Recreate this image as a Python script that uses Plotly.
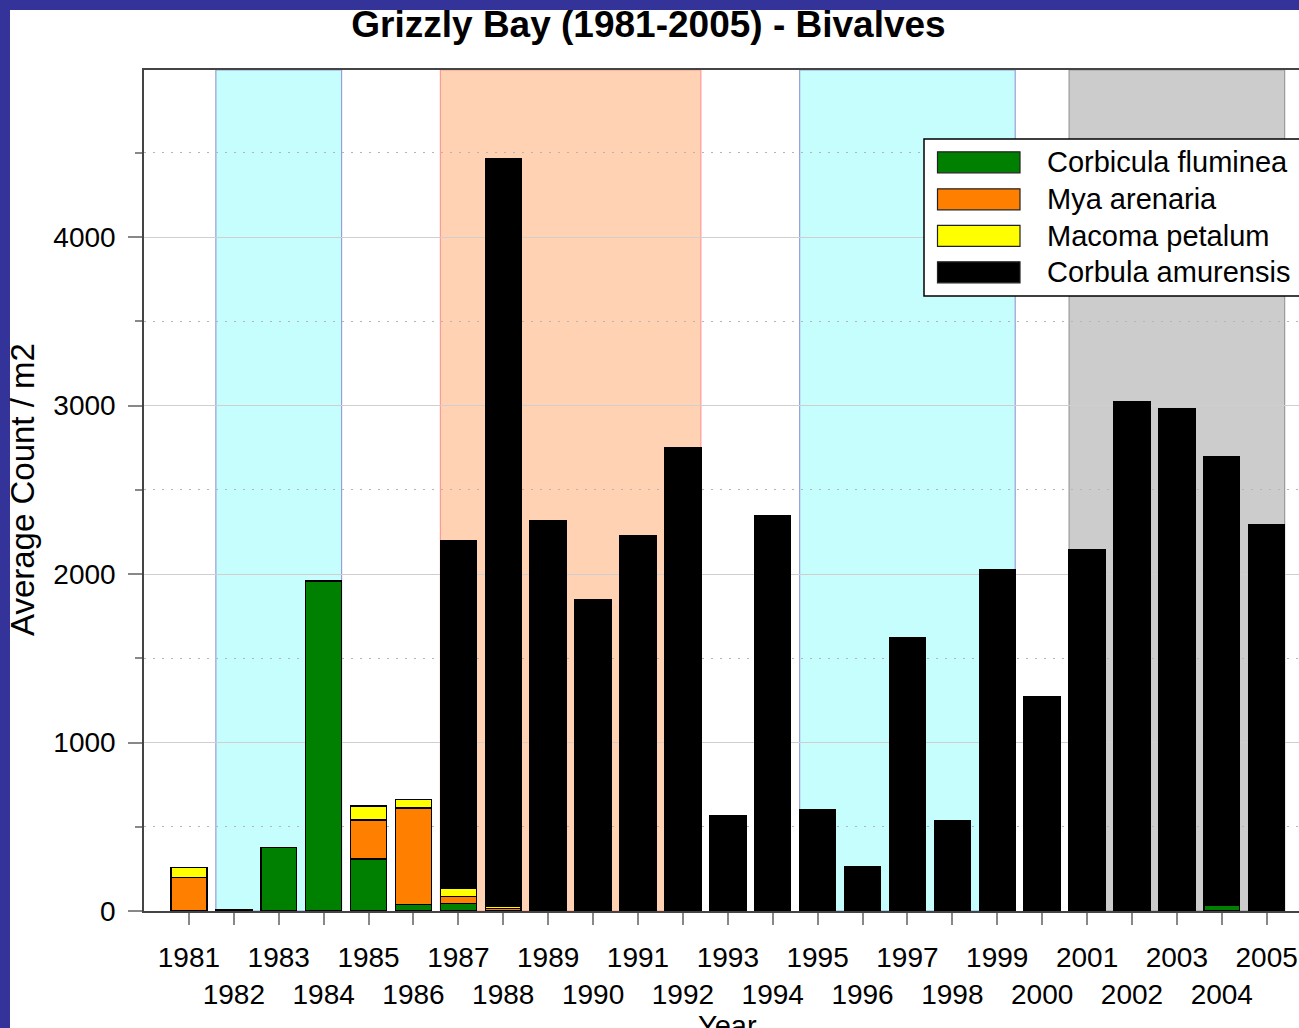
import plotly.graph_objects as go

# ---------------- data ----------------
years = list(range(1981, 2006))
species = ["Corbicula fluminea", "Mya arenaria", "Macoma petalum", "Corbula amurensis"]
colors = ["#008000", "#FF8000", "#FFFF00", "#000000"]

corbicula = [0, 8, 378, 1958, 310, 40, 46, 0, 0, 0, 0, 0, 0,
             0, 0, 0, 0, 0, 0, 0, 0, 0, 0, 36, 0]
mya = [200, 0, 0, 0, 230, 570, 39, 16, 0, 0, 0, 0, 0,
       0, 0, 0, 0, 0, 0, 0, 0, 0, 0, 0, 0]
macoma = [57, 0, 0, 0, 83, 53, 53, 15, 0, 5, 5, 0, 0,
          0, 0, 0, 0, 0, 0, 0, 0, 0, 0, 0, 0]
corbula = [0, 0, 0, 0, 0, 0, 2060, 4436, 2315, 1840, 2222, 2750, 564,
           2344, 598, 263, 1620, 538, 2024, 1270, 2144, 3023, 2983, 2660, 2291]
series = [corbicula, mya, macoma, corbula]

# shaded periods (first year, last year, fill, border)
period_start = [1982, 1987, 1995, 2001]
period_end = [1984, 1992, 1999, 2005]
period_fill = ["#C6FEFE", "#FFD2B4", "#C6FEFE", "#CCCCCC"]
period_line = ["#9A9ED6", "#FF9A9A", "#9A9ED6", "#9A9A9A"]

y_ticks = [0, 1000, 2000, 3000, 4000]
x_ticktext = [str(y) if y % 2 == 1 else "<br>" + str(y) for y in years]

# ---------------- layout geometry (pixels) ----------------
W, H = 1299, 1028
L, R, T, B = 144, 1299, 70, 911
FONT = "Liberation Sans, Arial, sans-serif"


def px(xp):
    return (xp - L) / (R - L)


def py(yp):
    return (B - yp) / (B - T)


fig = go.Figure()
for name, vals, col in zip(species, series, colors):
    fig.add_trace(go.Bar(
        x=years, y=[v if v else None for v in vals], name=name,
        marker=dict(color=col, line=dict(color="#000000", width=1.5)),
        width=0.8, showlegend=False,
    ))

shapes = []
for s, e, f, l in zip(period_start, period_end, period_fill, period_line):
    shapes.append(dict(type="rect", xref="x", yref="paper", x0=s - 0.4, x1=e + 0.4,
                       y0=0, y1=1, fillcolor=f, line=dict(color=l, width=1.2), layer="below"))

# blue slide border
shapes.append(dict(type="rect", xref="paper", yref="paper", x0=px(-5), x1=px(10),
                   y0=py(H + 5), y1=py(-5), fillcolor="#333399", line=dict(width=0), layer="above"))
shapes.append(dict(type="rect", xref="paper", yref="paper", x0=px(-5), x1=px(W + 5),
                   y0=py(10), y1=py(-5), fillcolor="#333399", line=dict(width=0), layer="above"))

# custom legend
shapes.append(dict(type="rect", xref="paper", yref="paper", x0=px(924), x1=px(1330),
                   y0=py(296), y1=py(139), fillcolor="white",
                   line=dict(color="#000000", width=1.5), layer="above"))
annotations = []
row_y = [162.3, 199.3, 235.8, 272.3]
for name, col, ry in zip(species, colors, row_y):
    shapes.append(dict(type="rect", xref="paper", yref="paper", x0=px(937.5), x1=px(1020),
                       y0=py(ry + 10.5), y1=py(ry - 10.5), fillcolor=col,
                       line=dict(color="#222222", width=1.2), layer="above"))
    annotations.append(dict(xref="paper", yref="paper", x=px(1045), y=py(ry),
                            text=name, showarrow=False, xanchor="left", yanchor="middle",
                            font=dict(family=FONT, size=29, color="#000000")))

annotations.append(dict(xref="paper", yref="paper", x=px(22), y=py(490),
                        text="Average Count / m2", textangle=-90, showarrow=False,
                        xanchor="center", yanchor="middle",
                        font=dict(family=FONT, size=33, color="#000000")))
annotations.append(dict(xref="paper", yref="paper", x=px(727), y=py(1008),
                        text="Year", showarrow=False, xanchor="center", yanchor="top",
                        font=dict(family=FONT, size=29, color="#000000")))

fig.update_layout(
    width=W, height=H,
    margin=dict(l=L, r=W - R, t=T, b=H - B, pad=0),
    paper_bgcolor="white", plot_bgcolor="white",
    barmode="stack", bargap=0.2,
    title=dict(text="<b>Grizzly Bay (1981-2005) - Bivalves</b>", xref="container", yref="container",
               x=648.5 / W, y=1 - 24 / H, xanchor="center", yanchor="middle",
               font=dict(family=FONT, size=37, color="#000000")),
    shapes=shapes, annotations=annotations,
    xaxis=dict(range=[1980.0, 1981 + (R - 188.6) / 44.92], tickmode="array",
               tickvals=years, ticktext=x_ticktext, showgrid=False, zeroline=False,
               showline=True, mirror=True, linecolor="#444444", linewidth=1.5,
               ticks="outside", ticklen=12, tickcolor="#888888", tickwidth=1.5,
               ticklabelstandoff=9,
               tickfont=dict(family=FONT, size=28, color="#000000"), tickangle=0),
    yaxis=dict(range=[0, (B - T) / 0.1685], tickmode="array", tickvals=y_ticks,
               showgrid=True, gridcolor="#CFCFCF", gridwidth=1.2, zeroline=False,
               showline=True, mirror=False, linecolor="#444444", linewidth=1.5,
               ticks="outside", ticklen=14, tickcolor="#888888", tickwidth=1.5,
               ticklabelstandoff=7,
               tickfont=dict(family=FONT, size=28, color="#000000"),
               minor=dict(tickvals=[500, 1500, 2500, 3500, 4500], ticks="outside", ticklen=7,
                          tickcolor="#888888", showgrid=True, gridcolor="#B5B5B5",
                          griddash="2px,7px", gridwidth=1.2)),
)

fig.write_html("out.html", config={"displayModeBar": False},
               post_script="document.body.style.margin='0';")
